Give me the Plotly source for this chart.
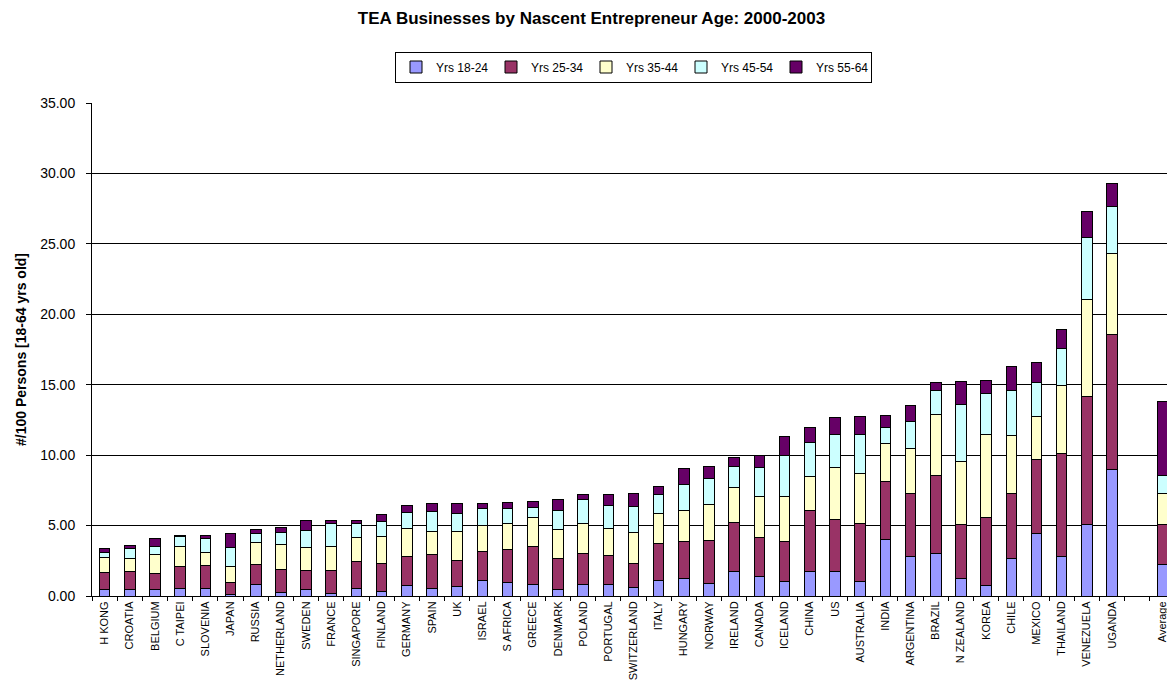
import plotly.graph_objects as go

countries = ["H KONG", "CROATIA", "BELGIUM", "C TAIPEI", "SLOVENIA", "JAPAN", "RUSSIA",
             "NETHERLAND", "SWEDEN", "FRANCE", "SINGAPORE", "FINLAND", "GERMANY", "SPAIN",
             "UK", "ISRAEL", "S AFRICA", "GREECE", "DENMARK", "POLAND", "PORTUGAL",
             "SWITZERLAND", "ITALY", "HUNGARY", "NORWAY", "IRELAND", "CANADA", "ICELAND",
             "CHINA", "US", "AUSTRALIA", "INDIA", "ARGENTINA", "BRAZIL", "N ZEALAND",
             "KOREA", "CHILE", "MEXICO", "THAILAND", "VENEZUELA", "UGANDA", " ", "Average"]

yrs_18_24 = [0.47, 0.45, 0.43, 0.50, 0.54, 0.12, 0.80, 0.24, 0.47, 0.17, 0.54, 0.33, 0.73, 0.52,
             0.69, 1.09, 0.99, 0.80, 0.47, 0.80, 0.80, 0.59, 1.09, 1.21, 0.92, 1.77, 1.37, 1.06,
             1.73, 1.73, 1.06, 4.00, 2.82, 3.03, 1.23, 0.73, 2.65, 4.45, 2.84, 5.09, 9.00, None, 2.27]
yrs_25_34 = [1.21, 1.30, 1.20, 1.58, 1.64, 0.83, 1.42, 1.65, 1.33, 1.63, 1.94, 1.99, 2.06, 2.44,
             1.82, 2.10, 2.28, 2.68, 2.18, 2.25, 2.11, 1.75, 2.65, 2.69, 3.01, 3.48, 2.75, 2.82,
             4.33, 3.69, 4.10, 4.12, 4.44, 5.52, 3.86, 4.86, 4.64, 5.21, 7.25, 9.04, 9.54, None, 2.84]
yrs_35_44 = [1.02, 0.90, 1.30, 1.42, 0.90, 1.18, 1.57, 1.75, 1.61, 1.70, 1.66, 1.87, 1.99, 1.65,
             2.08, 1.78, 1.86, 2.06, 2.06, 2.08, 1.87, 2.20, 2.15, 2.16, 2.58, 2.42, 2.95, 3.19,
             2.39, 3.71, 3.52, 2.69, 3.20, 4.31, 4.43, 5.87, 4.07, 3.08, 4.85, 6.94, 5.80, None, 2.18]
yrs_45_54 = [0.42, 0.69, 0.62, 0.71, 1.01, 1.28, 0.68, 0.90, 1.27, 1.66, 1.02, 1.09, 1.14, 1.38,
             1.30, 1.25, 1.05, 0.71, 1.37, 1.73, 1.61, 1.78, 1.30, 1.89, 1.84, 1.49, 2.06, 2.94,
             2.46, 2.37, 2.82, 1.16, 1.91, 1.70, 4.05, 2.91, 3.22, 2.41, 2.60, 4.36, 3.29, None, 1.26]
yrs_55_64 = [0.22, 0.23, 0.54, 0.07, 0.24, 1.04, 0.26, 0.33, 0.69, 0.23, 0.23, 0.54, 0.49, 0.56,
             0.71, 0.38, 0.49, 0.49, 0.78, 0.33, 0.85, 0.94, 0.59, 1.09, 0.83, 0.66, 0.88, 1.30,
             1.06, 1.18, 1.25, 0.81, 1.19, 0.57, 1.65, 0.90, 1.68, 1.42, 1.35, 1.89, 1.66, None, 5.25]

series = [
    ("Yrs 18-24", yrs_18_24, "#9999FF"),
    ("Yrs 25-34", yrs_25_34, "#993366"),
    ("Yrs 35-44", yrs_35_44, "#FFFFCC"),
    ("Yrs 45-54", yrs_45_54, "#CCFFFF"),
    ("Yrs 55-64", yrs_55_64, "#660066"),
]

FONT = "Arial, 'Liberation Sans', sans-serif"

fig = go.Figure()
for name, vals, color in series:
    fig.add_trace(go.Bar(
        x=countries, y=vals, name=name,
        marker=dict(color=color, line=dict(color="black", width=1)),
    ))

fig.update_layout(
    barmode="stack",
    bargap=0.58,
    width=1167, height=689,
    margin=dict(l=84, r=0, t=95, b=101),
    paper_bgcolor="white",
    plot_bgcolor="white",
    font=dict(family=FONT, color="black", size=11),
    title=dict(
        text="<b>TEA Businesses by Nascent Entrepreneur Age: 2000-2003</b>",
        x=0.5, xanchor="center", xref="container",
        y=0.985, yanchor="middle", yref="container",
        font=dict(family=FONT, size=17, color="black"),
    ),
    legend=dict(
        orientation="h", x=0.5, xanchor="center", y=1.073, yanchor="middle",
        bordercolor="black", borderwidth=1, bgcolor="white",
        font=dict(family=FONT, size=12, color="black"),
        traceorder="normal", itemwidth=30,
        entrywidth=50, entrywidthmode="pixels",
        tracegroupgap=0,
    ),
    showlegend=True,
)

fig.update_yaxes(
    range=[0, 35], dtick=5, tickformat=".2f",
    showgrid=True, gridcolor="black", gridwidth=1,
    showline=True, linecolor="black", linewidth=1,
    ticks="outside", ticklen=5, tickcolor="black", ticklabelstandoff=8,
    tickfont=dict(family=FONT, size=14, color="black"),
    title=dict(text="<b>#/100 Persons [18-64 yrs old]</b>",
               font=dict(family=FONT, size=14, color="black"), standoff=10),
    zeroline=False,
)
fig.update_xaxes(
    type="category", categoryorder="array", categoryarray=countries,
    tickangle=-90,
    showline=True, linecolor="black", linewidth=1,
    ticks="outside", ticklen=4, tickcolor="black", tickson="boundaries",
    tickfont=dict(family=FONT, size=11, color="black"),
    showgrid=False,
)

fig.write_html("out.html")
